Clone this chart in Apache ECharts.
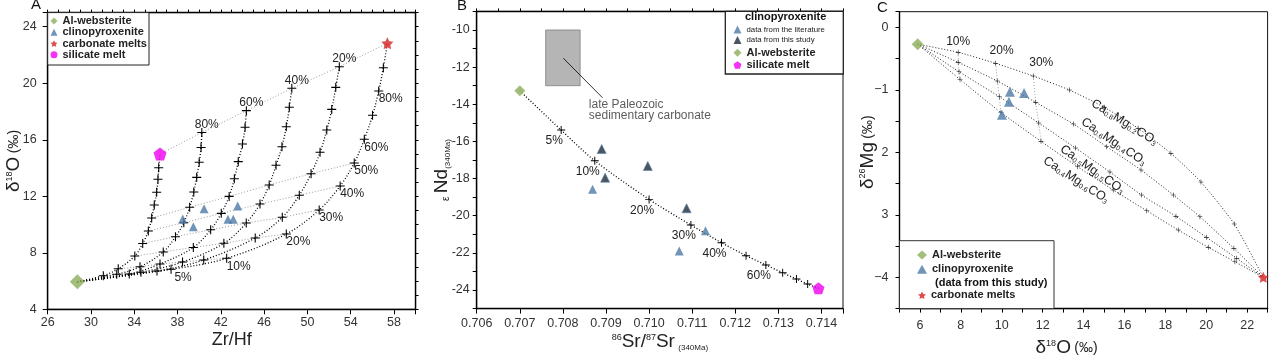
<!DOCTYPE html>
<html>
<head>
<meta charset="utf-8">
<script src="https://cdn.jsdelivr.net/npm/echarts@6/dist/echarts.min.js"></script>
<style>
html,body{margin:0;padding:0;background:#ffffff;}
#chart{width:1269px;height:356px;}
</style>
</head>
<body>
<div id="chart"></div>
<script>
// ================= DATA =================
// ---- Panel A : Zr/Hf vs d18O ----
const fracA = ['5%','10%','20%','30%','40%','50%','60%','70%','80%','90%','100%'];
const rightLabelIdxA = [0,1,2,3,4,5,6,8];
const topLabelsA = ['80%','60%','40%','20%'];
const websteriteA = [28.74, 5.95];
const silicateMeltA = [36.38, 14.99];
const carbonateMeltA = [57.39, 22.83];
const cpxA = [[38.48,10.39],[40.45,11.12],[39.46,9.85],[42.66,10.37],[43.15,10.37],[43.56,11.31]];
const curveA1 = [[31.14,6.38],[32.52,6.87],[34.05,7.77],[34.78,8.66],[35.30,9.54],[35.61,10.46],[35.85,11.38],[36.07,12.28],[36.19,13.20],[36.26,14.02],[36.38,14.99]];
const curveA2 = [[32.38,6.48],[34.53,7.01],[36.68,8.06],[37.81,9.14],[38.58,10.13],[39.12,11.22],[39.50,12.30],[39.77,13.34],[40.00,14.41],[40.17,15.45],[40.24,16.51]];
const curveA3 = [[33.54,6.50],[36.38,7.21],[39.46,8.38],[41.06,9.63],[42.04,10.79],[42.77,11.99],[43.25,13.24],[43.61,14.45],[44.00,15.70],[44.24,16.89],[44.36,18.06]];
const curveA4 = [[34.62,6.62],[38.46,7.35],[42.28,8.67],[44.35,10.11],[45.62,11.45],[46.47,12.80],[47.10,14.19],[47.65,15.51],[48.05,16.92],[48.33,18.30],[48.56,19.64]];
const curveA5 = [[36.10,6.71],[40.42,7.49],[45.18,9.05],[47.68,10.51],[49.25,12.07],[50.34,13.60],[51.17,15.11],[51.79,16.69],[52.25,18.15],[52.62,19.71],[52.95,21.17]];
const curveA6 = [[37.40,6.83],[42.54,7.61],[48.05,9.33],[51.09,11.03],[53.03,12.73],[54.33,14.35],[55.26,16.04],[56.02,17.73],[56.59,19.45],[57.02,21.10],[57.39,22.83]];
const tieIdxA = [0,1,2,3,4,5];

// ---- Panel B : 86Sr/87Sr vs eNd ----
const websteriteB = [0.70700, -13.27];
const silicateMeltB = [0.71393, -23.91];
const mixB = [[0.70796,-15.39],[0.70874,-17.04],[0.71000,-19.12],[0.71097,-20.50],[0.71168,-21.45],[0.71225,-22.15],[0.71271,-22.65],[0.71310,-23.07],[0.71342,-23.41],[0.71368,-23.68]];
const mixLabelsB = ['5%','10%','20%','30%','40%','','60%','','',''];
const cpxLitB = [[0.70869,-18.58],[0.71070,-21.90],[0.71131,-20.81]];
const cpxStudyB = [[0.70890,-16.41],[0.70898,-17.95],[0.70997,-17.32],[0.71087,-19.60]];
const carbBoxX = [0.7076, 0.7084];
const carbBoxY = [-13, -10];
const arrowB = [[0.70801,-11.52],[0.70892,-13.65]];
const noteB = [0.70859,-14.31];
const noteTextB = 'late Paleozoic\nsedimentary carbonate';

// ---- Panel C : d18O vs d26Mg ----
const fracC = ['10%','20%','30%','40%','50%','60%','70%','80%','90%'];
const websteriteC = [5.89, -0.27];
const carbonateMeltC = [22.79, -4.0];
const cpxC = [[10.40,-1.03],[11.09,-1.05],[10.35,-1.19],[10.01,-1.40]];
const curveC1 = [[7.87,-0.40],[9.70,-0.576],[11.54,-0.779],[13.31,-1.003],[15.01,-1.28],[16.67,-1.616],[18.27,-2.016],[19.74,-2.475],[21.37,-3.147]];
const curveC2 = [[7.87,-0.56],[9.78,-0.859],[11.66,-1.20],[13.50,-1.547],[15.13,-1.91],[16.81,-2.283],[18.39,-2.683],[19.69,-3.03],[21.35,-3.536]];
const curveC3 = [[7.91,-0.71],[9.88,-1.11],[11.81,-1.531],[13.61,-1.931],[15.29,-2.315],[16.84,-2.683],[18.52,-3.024],[20.01,-3.36],[21.49,-3.696]];
const curveC4 = [[7.96,-0.835],[9.96,-1.363],[11.92,-1.824],[13.71,-2.23],[15.45,-2.603],[17.09,-2.934],[18.63,-3.243],[20.10,-3.52],[21.40,-3.75]];
const caC = ['0.8','0.6','0.5','0.4'];
const mgC = ['0.2','0.4','0.5','0.6'];
const tieIdxC = [0,1,2];
const yTickValC = [0,-1,-2,-3,-4];
const yTickTextC = ['0','\u22121','2','3','\u22124'];

// ================= STYLE =================
const FONT = '"Liberation Sans", Arial, sans-serif';
const PLUS = 'path://M4.4,0H5.6V4.4H10V5.6H5.6V10H4.4V5.6H0V4.4H4.4Z';
const STAR = 'path://M0,-10L2.939,-4.045L9.511,-3.09L4.755,1.545L5.878,8.09L0,5L-5.878,8.09L-4.755,1.545L-9.511,-3.09L-2.939,-4.045Z';
const PENTA = 'path://M0,-10L9.511,-3.09L5.878,8.09L-5.878,8.09L-9.511,-3.09Z';
const C_GREEN = '#8cae5a', C_BLUE = '#4d7aa7', C_DARK = '#1d2a3a', C_MAG = '#f000f0', C_RED = '#d42020';

function vAxis(o) {
  return {
    type: 'value', gridIndex: o.grid, min: o.min, max: o.max, interval: o.interval,
    axisLine: {show: true, onZero: false, lineStyle: {color: '#000', width: 1.4}},
    axisTick: {show: true, inside: false, length: o.tick || 4, lineStyle: {color: '#000', width: 1}},
    axisLabel: o.formatter ? {show: true, color: '#333', fontSize: 12.5, fontFamily: FONT, margin: o.margin, formatter: o.formatter, showMinLabel: true, showMaxLabel: true, hideOverlap: false} : {show: false},
    splitLine: {show: false},
    name: o.name || '', nameLocation: 'middle', nameGap: o.nameGap || 0,
    nameTextStyle: Object.assign({color: '#222', fontFamily: FONT}, o.nameStyle || {}),
    nameMoveOverlap: false
  };
}
const richO = {
  b: {fontSize: 19, fontFamily: FONT, color: '#222'},
  s: {fontSize: 9, fontFamily: FONT, color: '#222', verticalAlign: 'top'},
  m: {fontSize: 14, fontFamily: FONT, color: '#222'},
  u: {fontSize: 8, fontFamily: FONT, color: '#222', verticalAlign: 'bottom'},
  e: {fontSize: 10, fontFamily: FONT, color: '#222', verticalAlign: 'bottom'}
};

const xAxis = [
  vAxis({grid: 0, min: 26, max: 60, interval: 4, tick: 5, margin: 7, formatter: v => (v < 59 ? String(v) : ''),
    name: 'Zr/Hf', nameGap: 22, nameStyle: {fontSize: 18}}),
  vAxis({grid: 0, min: 26, max: 60, interval: 1, tick: 3}),
  vAxis({grid: 1, min: 0.706, max: 0.7145, interval: 0.001, tick: 5, margin: 8, formatter: v => (v < 0.7142 ? v.toFixed(3) : ''),
    name: '{s|86}{b|Sr/}{s|87}{b|Sr} {u|(340Ma)}', nameGap: 24, nameStyle: {rich: richO}}),
  vAxis({grid: 1, min: 0.706, max: 0.7145, interval: 0.0005, tick: 3}),
  vAxis({grid: 2, min: 5, max: 23, interval: 1, tick: 4, margin: 10, formatter: v => (v % 2 === 0 ? String(v) : ''),
    name: '{b|\u03b4}{s|18}{b|O} {m|(\u2030)}', nameGap: 30, nameStyle: {rich: richO, padding: [0, 34, 0, 0]}})
];
const yAxis = [
  vAxis({grid: 0, min: 4, max: 25, interval: 4, tick: 5, margin: 11, formatter: v => (v < 24.5 ? String(v) : ''),
    name: '{b|\u03b4}{s|18}{b|O} {m|(\u2030)}', nameGap: 24, nameStyle: {rich: richO}}),
  vAxis({grid: 0, min: 4, max: 25, interval: 1, tick: 3}),
  vAxis({grid: 1, min: -25, max: -9, interval: 1, tick: 4, margin: 7, formatter: v => (Math.round(v) % 2 === 0 ? String(v) : ''),
    name: '{e|\u03b5} {b|Nd}{u|(340Ma)}', nameGap: 25, nameStyle: {rich: richO, padding: [0, 20, 0, 0]}}),
  vAxis({grid: 2, min: -4.5, max: 0.25, interval: 0.5, tick: 4, margin: 11,
    formatter: v => { const i = yTickValC.findIndex(t => Math.abs(t - v) < 1e-6); return i >= 0 ? yTickTextC[i] : ''; },
    name: '{b|\u03b4}{s|26}{b|Mg} {m|(\u2030)}', nameGap: 22, nameStyle: {rich: richO, padding: [0, 0, 0, 16]}})
];

const series = [];
const dotted = (color, w) => ({color: color, width: w, type: [1, 2]});
const lblBase = {show: true, position: 'inside', color: '#222', fontSize: 12, fontFamily: FONT};

// ---- Panel A series ----
const curvesA = [curveA1, curveA2, curveA3, curveA4, curveA5, curveA6];
tieIdxA.forEach(i => {
  series.push({type: 'line', xAxisIndex: 0, yAxisIndex: 0, z: 1, silent: true, symbol: 'none',
    lineStyle: dotted('#9a9a9a', 1), data: curvesA.map(c => c[i])});
});
series.push({type: 'line', xAxisIndex: 0, yAxisIndex: 0, z: 1, silent: true, symbol: 'none',
  lineStyle: dotted('#9a9a9a', 1), data: curvesA.map(c => c[c.length - 1])});
curvesA.forEach((pts, k) => {
  const data = [{value: websteriteA, symbol: 'none'}];
  pts.forEach((p, i) => {
    const item = {value: p};
    if (k === 5 && rightLabelIdxA.includes(i)) item.label = Object.assign({}, lblBase, {formatter: fracA[i], offset: [12, 8]});
    if (i === pts.length - 1) {
      if (k > 0 && k < 5) item.label = Object.assign({}, lblBase, {formatter: topLabelsA[k - 1], offset: [5, -8]});
      if (k === 0 || k === 5) item.symbol = 'none';
    }
    data.push(item);
  });
  series.push({type: 'line', xAxisIndex: 0, yAxisIndex: 0, z: 2, silent: true, smooth: 0.35,
    symbol: PLUS, symbolSize: 9, itemStyle: {color: '#000'}, lineStyle: dotted('#000', 1.3), data: data});
});
series.push({name: 'Al-websterite', type: 'scatter', xAxisIndex: 0, yAxisIndex: 0, z: 5, symbol: 'diamond', symbolSize: 15, itemStyle: {color: C_GREEN}, data: [websteriteA]});
series.push({name: 'clinopyroxenite', type: 'scatter', xAxisIndex: 0, yAxisIndex: 0, z: 5, symbol: 'triangle', symbolSize: 9, itemStyle: {color: C_BLUE}, data: cpxA});
series.push({name: 'carbonate melts', type: 'scatter', xAxisIndex: 0, yAxisIndex: 0, z: 5, symbol: STAR, symbolSize: 12, itemStyle: {color: C_RED}, data: [carbonateMeltA]});
series.push({name: 'silicate melt', type: 'scatter', xAxisIndex: 0, yAxisIndex: 0, z: 5, symbol: PENTA, symbolSize: 13, itemStyle: {color: C_MAG}, data: [silicateMeltA]});

// ---- Panel B series ----
const dataB = [{value: websteriteB, symbol: 'none'}];
mixB.forEach((p, i) => {
  const item = {value: p};
  if (mixLabelsB[i]) item.label = Object.assign({}, lblBase, {formatter: mixLabelsB[i], offset: [-7, 11]});
  dataB.push(item);
});
dataB.push({value: silicateMeltB, symbol: 'none'});
series.push({type: 'line', xAxisIndex: 2, yAxisIndex: 2, z: 2, silent: true, smooth: 0.3,
  symbol: PLUS, symbolSize: 8, itemStyle: {color: '#000'}, lineStyle: dotted('#000', 1.3), data: dataB,
  markArea: {silent: true, itemStyle: {color: '#b5b5b5', borderColor: '#808080', borderWidth: 0.8},
    data: [[{coord: [carbBoxX[0], carbBoxY[1]]}, {coord: [carbBoxX[1], carbBoxY[0]]}]]},
  markLine: {silent: true, symbol: ['none', 'arrow'], symbolSize: [0, 7], label: {show: false},
    lineStyle: {color: '#000', width: 0.8, type: 'solid'}, emphasis: {disabled: true},
    data: [[{coord: arrowB[0]}, {coord: arrowB[1]}]]}
});
series.push({type: 'scatter', xAxisIndex: 2, yAxisIndex: 2, z: 3, silent: true, symbolSize: 1, itemStyle: {color: 'rgba(0,0,0,0)'},
  label: {show: true, position: 'right', distance: 0, align: 'left', verticalAlign: 'middle', color: '#333', fontSize: 12, lineHeight: 11.5, fontFamily: FONT, formatter: noteTextB},
  data: [noteB]});
series.push({name: 'data from the literature', type: 'scatter', xAxisIndex: 2, yAxisIndex: 2, z: 5, symbol: 'triangle', symbolSize: 9, itemStyle: {color: C_BLUE}, data: cpxLitB});
series.push({name: 'data from this study', type: 'scatter', xAxisIndex: 2, yAxisIndex: 2, z: 5, symbol: 'triangle', symbolSize: 9, itemStyle: {color: C_DARK, borderColor: '#5b7fa6', borderWidth: 0.8}, data: cpxStudyB});
series.push({name: 'Al-websterite', type: 'scatter', xAxisIndex: 2, yAxisIndex: 2, z: 5, symbol: 'diamond', symbolSize: 11, itemStyle: {color: C_GREEN}, data: [websteriteB]});
series.push({name: 'silicate melt', type: 'scatter', xAxisIndex: 2, yAxisIndex: 2, z: 5, symbol: PENTA, symbolSize: 12, itemStyle: {color: C_MAG}, data: [silicateMeltB]});

// ---- Panel C series ----
const curvesC = [curveC1, curveC2, curveC3, curveC4];
tieIdxC.forEach(i => {
  series.push({type: 'line', xAxisIndex: 4, yAxisIndex: 3, z: 1, silent: true, symbol: 'none',
    lineStyle: dotted('#a0a0a0', 1), data: curvesC.map(c => c[i])});
});
const compAnchorC = [4, 4, 3, 3];
const compOffsetC = [[25, 2], [3, -8], [26, 8], [6, 12]];
const compRotateC = [-32, -34, -35, -33];
const pctOffsetC = [[0, -11], [6, -12.5], [8, -13.5]];
curvesC.forEach((pts, k) => {
  const data = [{value: websteriteC, symbol: 'none'}];
  pts.forEach((p, i) => {
    const item = {value: p};
    if (i === compAnchorC[k]) {
      item.label = {show: true, position: 'inside', offset: compOffsetC[k], rotate: compRotateC[k],
        formatter: 'Ca{s|' + caC[k] + '}Mg{s|' + mgC[k] + '}CO{s|3}', color: '#222', fontSize: 12.5, fontFamily: FONT,
        rich: {s: {fontSize: 7, fontFamily: FONT, color: '#222', verticalAlign: 'bottom'}}};
    }
    if (k === 0 && tieIdxC.includes(i)) {
      item.label = Object.assign({}, lblBase, {formatter: fracC[i], offset: pctOffsetC[i]});
    }
    data.push(item);
  });
  data.push({value: carbonateMeltC, symbol: 'none'});
  series.push({type: 'line', xAxisIndex: 4, yAxisIndex: 3, z: 2, silent: true, smooth: 0.2,
    symbol: PLUS, symbolSize: 5, itemStyle: {color: '#222'}, lineStyle: dotted('#222', 1), data: data});
});
series.push({name: 'Al-websterite', type: 'scatter', xAxisIndex: 4, yAxisIndex: 3, z: 5, symbol: 'diamond', symbolSize: 12, itemStyle: {color: C_GREEN}, data: [websteriteC]});
series.push({name: 'clinopyroxenite', type: 'scatter', xAxisIndex: 4, yAxisIndex: 3, z: 5, symbol: 'triangle', symbolSize: 10, itemStyle: {color: C_BLUE}, data: cpxC});
series.push({name: 'carbonate melts', type: 'scatter', xAxisIndex: 4, yAxisIndex: 3, z: 5, symbol: STAR, symbolSize: 11, itemStyle: {color: C_RED}, data: [carbonateMeltC]});

// ---- Legends ----
const legBase = {orient: 'vertical', padding: 0, selectedMode: false, itemStyle: {borderWidth: 0}};
const legend = [
  Object.assign({}, legBase, {left: 50.5, top: 15.3, itemWidth: 7, itemHeight: 7, itemGap: 0,
    textStyle: {fontSize: 11, fontWeight: 'bold', color: '#222', lineHeight: 11.3, fontFamily: FONT},
    data: [{name: 'Al-websterite', icon: 'diamond'}, {name: 'clinopyroxenite', icon: 'triangle'},
           {name: 'carbonate melts', icon: STAR}, {name: 'silicate melt', icon: 'circle'}]}),
  Object.assign({}, legBase, {left: 733.5, top: 25, itemWidth: 8, itemHeight: 8, itemGap: 1.6,
    textStyle: {fontSize: 7.8, color: '#222', lineHeight: 9, fontFamily: FONT},
    data: [{name: 'data from the literature', icon: 'triangle'}, {name: 'data from this study', icon: 'triangle'}]}),
  Object.assign({}, legBase, {left: 733.5, top: 46.7, itemWidth: 8, itemHeight: 8, itemGap: 0.3,
    textStyle: {fontSize: 11, fontWeight: 'bold', color: '#222', lineHeight: 12, fontFamily: FONT},
    data: [{name: 'Al-websterite', icon: 'diamond'}, {name: 'silicate melt', icon: PENTA}]}),
  Object.assign({}, legBase, {left: 917, top: 249, itemWidth: 10, itemHeight: 9, itemGap: 2.3,
    textStyle: {fontSize: 11, fontWeight: 'bold', color: '#222', lineHeight: 12, fontFamily: FONT},
    data: [{name: 'Al-websterite', icon: 'diamond'}, {name: 'clinopyroxenite', icon: 'triangle'}]}),
  Object.assign({}, legBase, {left: 918, top: 289.3, itemWidth: 8, itemHeight: 8, itemGap: 0,
    textStyle: {fontSize: 11, fontWeight: 'bold', color: '#222', lineHeight: 12, fontFamily: FONT},
    data: [{name: 'carbonate melts', icon: STAR}]})
];

const titleStyle = (fs, fw) => ({fontSize: fs, fontWeight: fw, color: '#111', fontFamily: FONT});
const title = [
  {text: 'A', left: 31, top: -3, padding: 0, textStyle: titleStyle(15, 'normal')},
  {text: 'B', left: 457, top: -2, padding: 0, textStyle: titleStyle(15, 'normal')},
  {text: 'C', left: 877, top: 0, padding: 0, textStyle: titleStyle(15, 'normal')},
  {text: 'clinopyroxenite', left: 745, top: 11.5, padding: 0, textStyle: titleStyle(11, 'bold')},
  {text: '(data from this study)', left: 935, top: 277, padding: 0, textStyle: titleStyle(11, 'bold')}
];

const graphic = [
  {type: 'rect', z: 3, shape: {x: 47.7, y: 12.6, width: 101.3, height: 52.4}, style: {fill: '#fff', stroke: '#222', lineWidth: 1}},
  {type: 'rect', z: 3, shape: {x: 725.3, y: 11.4, width: 118, height: 62.6}, style: {fill: '#fff', stroke: '#222', lineWidth: 1.3}},
  {type: 'rect', z: 3, shape: {x: 899.5, y: 240.7, width: 154.5, height: 67.9}, style: {fill: '#fff', stroke: '#333', lineWidth: 1}}
];

const grid = [
  {left: 47.7, top: 12.6, width: 367.9, height: 296.7},
  {left: 476.7, top: 11.4, width: 366.3, height: 297.2},
  {left: 899.5, top: 11.7, width: 368.1, height: 296.9}
].map(g => Object.assign(g, {show: true, borderColor: '#111', borderWidth: 1, backgroundColor: 'transparent', containLabel: false, outerBoundsMode: 'none'}));

const chart = echarts.init(document.getElementById('chart'), null, {renderer: 'canvas', width: 1269, height: 356});
chart.setOption({
  animation: false,
  backgroundColor: '#ffffff',
  textStyle: {fontFamily: FONT},
  title: title,
  legend: legend,
  grid: grid,
  xAxis: xAxis,
  yAxis: yAxis,
  graphic: graphic,
  series: series
});
</script>
</body>
</html>
